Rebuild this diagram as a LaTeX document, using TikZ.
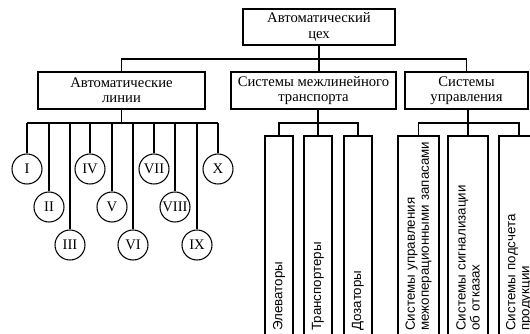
\documentclass[tikz,border=0pt]{standalone}
\usepackage{fontspec}
\setmainfont{Liberation Serif}
\setsansfont{Liberation Sans}
\usepackage{tikz}

\tikzset{
  levelbox/.style={draw, rectangle, align=center, inner sep=0.75pt, minimum height=27.75pt, font=\fontsize{11}{11.5}\selectfont},
  linecircle/.style={draw, circle, inner sep=0pt, minimum size=22.5pt, font=\fontsize{11}{11}\selectfont},
  unitbox/.style={draw, rectangle, rotate=90, align=left, inner xsep=4pt, inner ysep=1pt, text width=142pt, font=\sffamily\fontsize{10}{10.5}\selectfont}
}

\begin{document}
\begin{tikzpicture}[x=0.75pt,y=0.75pt,yscale=-1,xscale=1,line width=0.8pt]
        \useasboundingbox (0,0) rectangle (530,333);
        \clip (0,0) rectangle (530,333);

        % bus levels
        \coordinate (busTop) at (0,59);
        \coordinate (busLow) at (0,123);

        % Top node
        \node [levelbox, minimum width=114pt, minimum height=27pt] (shop) at (319,27) {Автоматический\\цех};

        % Second level
        \node [levelbox, minimum width=125.25pt] (lines) at (121.5,90.5) {Автоматические\\линии};
        \node [levelbox, minimum width=123.75pt] (trans) at (313.5,90.5) {Системы межлинейного\\транспорта};
        \node [levelbox, minimum width=92.25pt] (ctrl) at (466.5,90.5) {Системы\\управления};

        % Lines I..X
        \foreach \i/\x/\y/\num in {1/27/169/I, 2/49/207/II, 3/70/245/III, 4/90/169/IV, 5/112/207/V,
                                   6/133/245/VI, 7/154/169/VII, 8/175/207/VIII, 9/197/245/IX, 10/218/169/X}
          \node [linecircle] (ln\i) at (\x,\y) {\num};

        % Transport units
        \node [unitbox, minimum height=21pt] (elev) at (279,236) {Элеваторы};
        \node [unitbox, minimum height=21pt] (transp) at (318,236) {Транспортеры};
        \node [unitbox, minimum height=21pt] (dose) at (358,236) {Дозаторы};

        % Control units
        \node [unitbox, minimum height=30.75pt] (stock) at (418.5,236) {Системы управления\\межоперационными запасами};
        \node [unitbox, minimum height=30pt] (alarm) at (468,236) {Системы сигнализации\\об отказах};
        \node [unitbox, minimum height=30pt] (count) at (519,236) {Системы подсчета\\продукции};

        % Top connectors
        \draw (shop.south) -- (shop.south |- trans.north);
        \draw (lines.north) |- (ctrl.north |- busTop) -- (ctrl.north);

        % Lines connectors
        \draw (lines.south) -- (lines.south |- busLow);
        \draw (ln1.north |- busLow) -- (ln10.north |- busLow);
        \foreach \i in {1,...,10}
          \draw (ln\i.north |- busLow) -- (ln\i.north);

        % Transport connectors
        \draw (transp.east) -- (transp.east |- trans.south);
        \draw (elev.east) |- (dose.east |- busLow) -- (dose.east);

        % Control connectors
        \draw (alarm.east) -- (alarm.east |- ctrl.south);
        \draw (stock.east) |- (count.east |- busLow) -- (count.east);

\end{tikzpicture}
\end{document}
